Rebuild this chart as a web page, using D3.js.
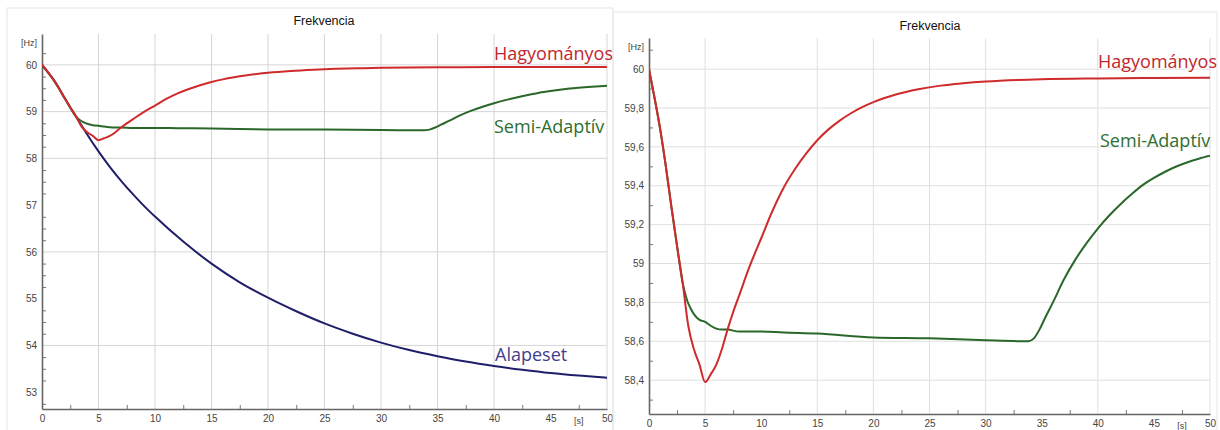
<!DOCTYPE html>
<html>
<head>
<meta charset="utf-8">
<script src="https://cdn.jsdelivr.net/npm/d3@7"></script>
<style>
  body { margin: 0; background: #fff; }
  svg { display: block; }
</style>
</head>
<body>
<svg id="mainSvg" width="1220" height="430"></svg>
<script>
// Hagyomanyos (red)
const redT = [0, 0.5, 1, 1.5, 2, 2.5, 3, 3.5, 4, 4.5, 5, 5.5, 6, 6.5, 7, 7.5, 8, 9, 10, 11, 12, 13, 14, 15, 16, 17, 18, 19, 20, 22, 24, 26, 28, 30, 35, 40, 45, 50]
const redV = [60, 59.85, 59.69, 59.5, 59.29, 59.09, 58.9, 58.68, 58.56, 58.48, 58.39, 58.43, 58.48, 58.56, 58.66, 58.75, 58.83, 58.99, 59.13, 59.27, 59.39, 59.485, 59.565, 59.634, 59.69, 59.735, 59.773, 59.804, 59.83, 59.869, 59.896, 59.915, 59.927, 59.936, 59.948, 59.952, 59.954, 59.955]
// Semi-Adaptiv (green)
const greenT = [0, 0.5, 1, 1.5, 2, 2.5, 3, 3.4, 3.7, 4, 4.5, 5, 5.5, 6, 6.5, 7, 8, 10, 12, 15, 20, 25, 30, 33.8, 34.3, 34.8, 35.3, 36, 37, 38, 39, 40, 41, 42, 43, 44, 45, 46, 47, 48, 49, 50]
const greenV = [60, 59.85, 59.69, 59.5, 59.29, 59.09, 58.9, 58.81, 58.77, 58.74, 58.71, 58.7, 58.68, 58.665, 58.66, 58.66, 58.65, 58.65, 58.645, 58.64, 58.62, 58.615, 58.605, 58.6, 58.615, 58.66, 58.72, 58.8, 58.92, 59.02, 59.105, 59.18, 59.246, 59.304, 59.356, 59.403, 59.44, 59.472, 59.499, 59.521, 59.539, 59.554]
// Alapeset (blue)
const blueT = [0, 0.5, 1, 1.5, 2, 2.5, 3, 4, 5, 6, 7, 8, 9, 10, 12.5, 15, 17.5, 20, 22.5, 25, 27.5, 30, 32.5, 35, 37.5, 40, 42.5, 45, 47.5, 50]
const blueV = [60, 59.85, 59.69, 59.5, 59.29, 59.09, 58.9, 58.51, 58.15, 57.82, 57.52, 57.245, 56.99, 56.755, 56.22, 55.75, 55.35, 55.02, 54.73, 54.47, 54.25, 54.06, 53.9, 53.77, 53.655, 53.56, 53.48, 53.41, 53.355, 53.31]

const xTicks = [0, 5, 10, 15, 20, 25, 30, 35, 40, 45, 50]
const xMinor = [2.5, 7.5, 12.5, 17.5, 22.5, 27.5, 32.5, 37.5, 42.5, 47.5]
const leftYTicks = [53, 54, 55, 56, 57, 58, 59, 60]
const leftGridY = [54, 56, 58, 59, 60]
const leftGridX = [5, 10, 15, 20, 25, 30, 35, 40, 50]
const rightYTicks = [58.4, 58.6, 58.8, 59, 59.2, 59.4, 59.6, 59.8, 60]
const rightGridX = [5, 15, 20, 25, 30, 40, 50]

let svg = d3.select('#mainSvg')
svg.append('rect').attr('width', 1220).attr('height', 430).attr('fill', '#fff')

const colors = {red: '#cf2a2c', green: '#2b672b', blue: '#1e1e6a'}
const labelColors = {red: '#c1272d', green: '#2f6e31', blue: '#3f3f8c'}

function commaFmt(d){
  return String(+d.toFixed(1)).replace('.', ',')
}

function drawPanel(p){
  let g = svg.append('g')

  g.append('rect')
    .attr('x', p.frame[0]).attr('y', p.frame[1])
    .attr('width', p.frame[2]).attr('height', p.frame[3])
    .attr('fill', 'none').attr('stroke', '#e6e6e6')

  let x = d3.scaleLinear().domain([0, 50]).range([p.left, p.right])
  let y = d3.scaleLinear().domain(p.yDomain).range([p.bottom, p.top])

  // grid
  g.selectAll('.vgrid').data(p.gridX).join('line')
    .attr('x1', d => x(d)).attr('x2', d => x(d))
    .attr('y1', p.top).attr('y2', p.bottom)
    .attr('stroke', p.gridColor).attr('stroke-width', 1)
  g.selectAll('.hgrid').data(p.gridY).join('line')
    .attr('x1', p.left).attr('x2', p.right)
    .attr('y1', d => y(d)).attr('y2', d => y(d))
    .attr('stroke', p.gridColor).attr('stroke-width', 1)

  // minor ticks (inside)
  g.append('g').attr('transform', `translate(0,${p.bottom})`)
    .call(d3.axisTop(x).tickValues(xMinor).tickSize(4).tickFormat(''))
    .call(a => a.select('.domain').remove())
    .selectAll('line').attr('stroke', '#777')
  g.append('g').attr('transform', `translate(${p.left},0)`)
    .call(d3.axisRight(y).tickValues(p.yMinor).tickSize(4).tickFormat(''))
    .call(a => a.select('.domain').remove())
    .selectAll('line').attr('stroke', '#777')

  // axes
  let xAxis = g.append('g').attr('transform', `translate(0,${p.bottom})`)
    .call(d3.axisBottom(x).tickValues(xTicks).tickSize(0).tickSizeOuter(0).tickPadding(p.xPad))
  let yAxis = g.append('g').attr('transform', `translate(${p.left},0)`)
    .call(d3.axisLeft(y).tickValues(p.yTicks).tickSize(0).tickSizeOuter(0).tickPadding(5).tickFormat(p.yFmt))
  ;[xAxis, yAxis].forEach(a => {
    a.select('.domain').attr('stroke', '#666').attr('stroke-width', 1.6)
    a.selectAll('text').attr('fill', '#444').style('font-family', '"Liberation Sans", Arial, sans-serif').style('font-size', '10px')
  })

  g.append('text').attr('x', p.left - 5).attr('y', p.top + 12)
    .attr('text-anchor', 'end').attr('fill', '#444')
    .style('font-family', '"Liberation Sans", Arial, sans-serif').style('font-size', '9px')
    .text('[Hz]')
  g.append('text').attr('x', x(47.5)).attr('y', p.bottom + p.xPad + 9)
    .attr('text-anchor', 'middle').attr('fill', '#444')
    .style('font-family', '"Liberation Sans", Arial, sans-serif').style('font-size', '9px')
    .text('[s]')

  g.append('text').attr('x', p.titleX).attr('y', p.titleY)
    .attr('text-anchor', 'middle').attr('fill', '#111')
    .style('font-family', '"Liberation Sans", Arial, sans-serif').style('font-size', '12.5px')
    .text('Frekvencia')

  // lines
  let clipId = 'clip' + p.id
  svg.append('clipPath').attr('id', clipId).append('rect')
    .attr('x', p.left).attr('y', p.top).attr('width', p.right - p.left).attr('height', p.bottom - p.top)
  let line = d3.line().x(d => x(d[0])).y(d => y(d[1])).curve(d3.curveMonotoneX)
  let plot = g.append('g').attr('clip-path', `url(#${clipId})`)
  p.series.forEach(s => {
    plot.append('path')
      .datum(d3.zip(s.t, s.v))
      .attr('d', line)
      .attr('fill', 'none')
      .attr('stroke', colors[s.c])
      .attr('stroke-width', 2)
      .attr('stroke-linejoin', 'round')
  })

  // series labels
  p.labels.forEach(l => {
    g.append('text').attr('x', l.x).attr('y', l.y)
      .attr('fill', labelColors[l.c])
      .style('font-family', '"Open Sans", "Noto Sans", sans-serif').style('font-size', '18px')
      .text(l.text)
  })
}

drawPanel({
  id: 'L', frame: [7, 8, 606, 440],
  left: 42, right: 607, top: 34, bottom: 409,
  yDomain: [52.64, 60.66], yTicks: leftYTicks, yFmt: d => d,
  yMinor: d3.range(52.75, 60.5, 0.25).filter(v => v % 1 !== 0),
  gridX: leftGridX, gridY: leftGridY, gridColor: '#d6d6d6', xPad: 6,
  titleX: 324, titleY: 25,
  series: [{t: blueT, v: blueV, c: 'blue'}, {t: greenT, v: greenV, c: 'green'}, {t: redT, v: redV, c: 'red'}],
  labels: [
    {text: 'Hagyományos', x: 494, y: 60, c: 'red'},
    {text: 'Semi-Adaptív', x: 494, y: 133, c: 'green'},
    {text: 'Alapeset', x: 495, y: 361, c: 'blue'}
  ]
})

drawPanel({
  id: 'R', frame: [613, 12, 604, 440],
  left: 649, right: 1210, top: 38, bottom: 414,
  yDomain: [58.226, 60.16], yTicks: rightYTicks, yFmt: commaFmt,
  yMinor: d3.range(58.3, 60.1, 0.2).map(v => +v.toFixed(1)),
  gridX: rightGridX, gridY: rightYTicks, gridColor: '#e0e0e0', xPad: 6,
  titleX: 930, titleY: 30,
  series: [{t: greenT, v: greenV, c: 'green'}, {t: redT, v: redV, c: 'red'}],
  labels: [
    {text: 'Hagyományos', x: 1098, y: 68, c: 'red'},
    {text: 'Semi-Adaptív', x: 1100, y: 147, c: 'green'}
  ]
})
</script>
</body>
</html>
